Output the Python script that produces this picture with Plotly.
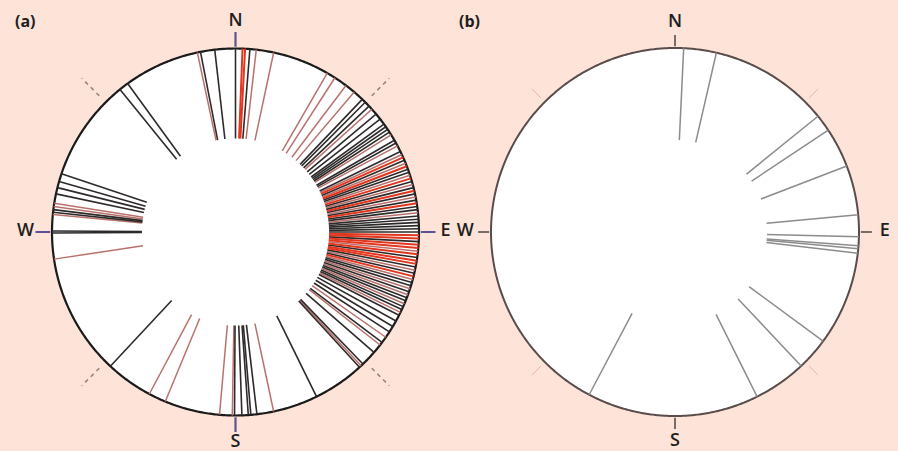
import numpy as np
import plotly.graph_objects as go

# ---------------- data (azimuths in degrees, clockwise from North) ----------------
a_dark = [349, 353.5, 0, 4.5, 321, 324, 288.5, 286, 284, 282, 277, 276.2, 269.7, 270.3,
          223, 180.3, 178, 176, 175.2, 173.3, 153.8, 137.5, 136, 131, 127, 123, 121, 119,
          43.7, 45, 46.7, 50, 52, 54, 55, 56, 57, 60, 61, 64, 67, 70, 71, 74, 76, 78, 80,
          82, 83, 85, 86, 87, 88, 89, 90, 93, 98, 101, 103, 106, 107, 109, 111, 112, 114,
          115, 117]
a_rose = [348, 6.5, 12, 279, 278, 275.5, 261.5, 208, 202.5, 185, 181, 168, 136.8, 128,
          125, 30, 32.8, 37, 40.3, 48, 58, 62, 65, 68, 72, 75, 79, 84, 96, 102, 105, 108,
          110, 113, 116]
a_red = [2.2, 3.0, 66, 69, 73, 77, 81, 91, 92, 94, 95, 97, 99, 100, 104]

b_gray = [2.7, 13, 51, 56.4, 69, 84.6, 91.5, 94.3, 95.2, 96.6, 126.4, 136.7, 153.5, 207.8]

compass_main = [0, 90, 180, 270]
compass_labels = ["N", "E", "S", "W"]
compass_diag = [45, 135, 225, 315]
panel_labels = ["(a)", "(b)"]

R_IN = 0.51
R_MAX = 1.185  # radial extent of each polar area (circle of the diagram is r = 1)

fig = go.Figure()


def segs(angles, r0, r1, color, width, subplot, dash=None):
    r, th = [], []
    for a in angles:
        r += [r0, r1, None]
        th += [a, a, None]
    return go.Scatterpolar(r=r, theta=th, mode="lines", subplot=subplot,
                           line=dict(color=color, width=width, dash=dash),
                           hoverinfo="skip", showlegend=False, connectgaps=False)


def rim(color, width, subplot):
    th = np.linspace(0, 360, 721)
    return go.Scatterpolar(r=np.ones_like(th), theta=th, mode="lines", fill="toself",
                           fillcolor="white", line=dict(color=color, width=width),
                           subplot=subplot, hoverinfo="skip", showlegend=False)


label_font = dict(family="Open Sans", size=18, color="#1e1e1e", weight=600)

# panel (a)
fig.add_trace(rim("#1c1a1a", 2.2, "polar"))
fig.add_trace(segs(a_rose, R_IN, 1.0, "#b9716d", 1.5, "polar"))
fig.add_trace(segs(a_dark, R_IN, 1.0, "#2e2a2a", 1.6, "polar"))
fig.add_trace(segs(a_red, R_IN, 1.0, "#e2361f", 2.0, "polar"))
fig.add_trace(segs(compass_main, 1.01, 1.09, "#5d5296", 2.2, "polar"))
fig.add_trace(segs(compass_diag, 1.05, 1.2, "#94817e", 1.5, "polar", dash="4px,4px"))
fig.add_trace(go.Scatterpolar(r=[1.145] * 4, theta=compass_main, text=compass_labels,
                              mode="text", subplot="polar", textfont=label_font,
                              hoverinfo="skip", showlegend=False))

# panel (b)
fig.add_trace(rim("#5a4c4a", 2.0, "polar2"))
fig.add_trace(segs(b_gray, 0.5, 1.0, "#8c8c8c", 1.5, "polar2"))
fig.add_trace(segs(compass_main, 1.01, 1.07, "#4a4444", 1.5, "polar2"))
fig.add_trace(segs(compass_diag, 1.03, 1.1, "#f0b4a8", 1.0, "polar2"))
fig.add_trace(go.Scatterpolar(r=[1.14] * 4, theta=compass_main, text=compass_labels,
                              mode="text", subplot="polar2", textfont=label_font,
                              hoverinfo="skip", showlegend=False))

W, H = 898, 451


def polar_layout(cx, cy, R):
    Rp = R * R_MAX
    return dict(
        domain=dict(x=[(cx - Rp) / W, (cx + Rp) / W],
                    y=[1 - (cy + Rp) / H, 1 - (cy - Rp) / H]),
        bgcolor="rgba(0,0,0,0)",
        radialaxis=dict(visible=False, range=[0, R_MAX]),
        angularaxis=dict(direction="clockwise", rotation=90, showgrid=False,
                         showticklabels=False, ticks="", showline=False),
    )


fig.update_layout(
    width=W, height=H,
    margin=dict(l=0, r=0, t=0, b=0),
    paper_bgcolor="#fde3d8",
    plot_bgcolor="#fde3d8",
    polar=polar_layout(235.5, 232, 183.5),
    polar2=polar_layout(675, 232, 184),
    annotations=[
        dict(text="<b>%s</b>" % panel_labels[0], x=25 / W, y=1 - 21 / H,
             xref="paper", yref="paper", xanchor="center", yanchor="middle",
             showarrow=False, font=dict(family="Open Sans", size=16, color="#1e1e1e")),
        dict(text="<b>%s</b>" % panel_labels[1], x=469 / W, y=1 - 21 / H,
             xref="paper", yref="paper", xanchor="center", yanchor="middle",
             showarrow=False, font=dict(family="Open Sans", size=16, color="#1e1e1e")),
    ],
)

fig.write_html("out.html", config={"displayModeBar": False},
               post_script="document.body.style.margin='0';"
                           "document.body.style.background='#fde3d8';")
